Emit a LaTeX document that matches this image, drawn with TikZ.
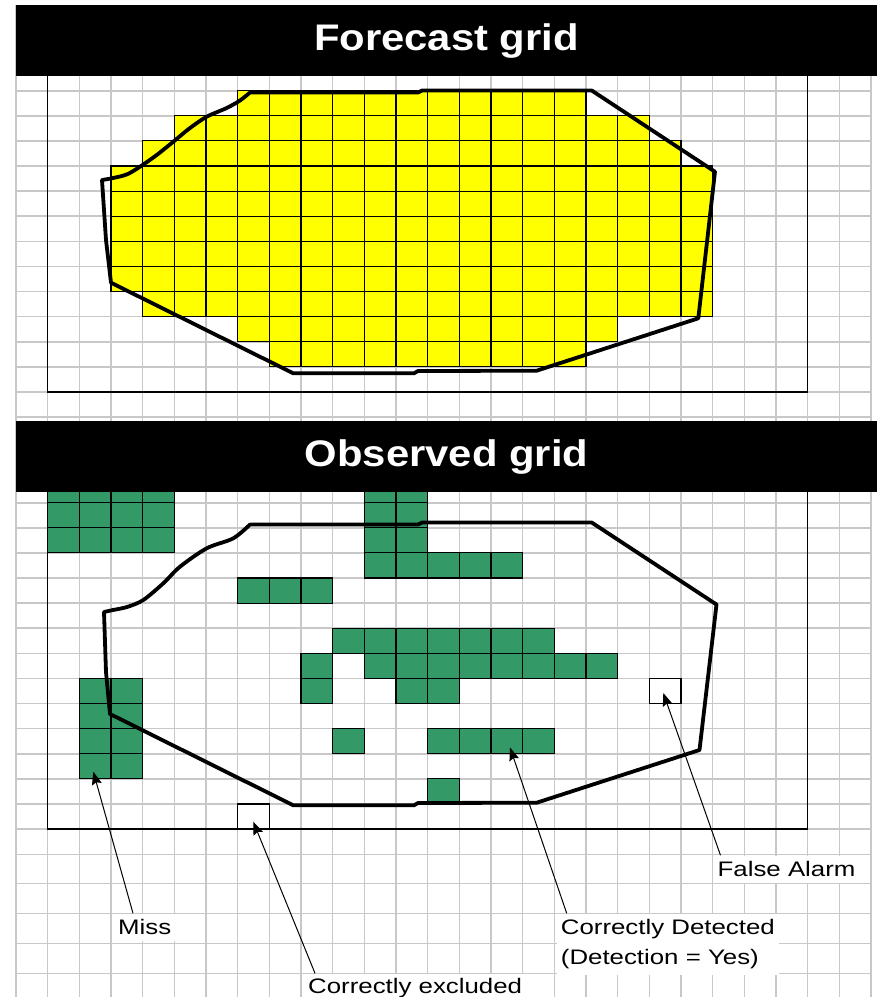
\documentclass[tikz,border=0pt]{standalone}
\usepackage{fontspec}
\usetikzlibrary{arrows.meta}
\newfontfamily\hdrfont[FakeStretch=1.13]{Liberation Sans Bold}
\newfontfamily\lblfont[FakeStretch=1.23]{Liberation Sans}
\definecolor{gridgray}{RGB}{200,200,200}
\definecolor{obsgreen}{RGB}{51,153,102}
\definecolor{fcyellow}{RGB}{255,255,0}
\newcommand\ycell[2]{\filldraw[ycellstyle] ({16+31.667*#1},{90.7+25.1*#2}) rectangle ++(31.667,25.1);}
\newcommand\gcell[2]{\filldraw[gcellstyle] ({16+31.667*#1},{502.7+25.1*#2}) rectangle ++(31.667,25.1);}
\tikzset{
  gridline/.style={draw=gridgray, line width=1.6pt},
  ycellstyle/.style={fill=fcyellow, draw=black, line width=1.1pt},
  gcellstyle/.style={fill=obsgreen, draw=black, line width=1.1pt},
  boxline/.style={draw=black, line width=1.3pt},
  poly/.style={draw=black, line width=3.8pt, line join=round, line cap=round},
  bar/.style={fill=black},
  hdr/.style={text=white, font=\hdrfont\fontsize{37}{40}\selectfont, inner sep=0pt},
  lbl/.style={fill=white, inner xsep=4pt, inner ysep=6pt, align=left,
              font=\lblfont\fontsize{21}{30}\selectfont},
  arr/.style={draw=black, line width=1pt, -{Stealth[length=13pt,width=10pt,inset=2pt]}}
}
\begin{document}
\begin{tikzpicture}[x=1pt, y=-1pt]
\useasboundingbox (0,0) rectangle (880,997);
\fill[white] (0,0) rectangle (880,997);

% ---------- top grid ----------
\foreach \c in {0,...,27} \draw[gridline] ({16+31.667*\c},5) -- ({16+31.667*\c},421);
\foreach \r in {0,...,13} \draw[gridline] (16,{90.7+25.1*\r}) -- (871,{90.7+25.1*\r});

% yellow forecast cells
\foreach \r/\a/\b in {0/7/17,1/5/19,2/4/20,3/3/21,4/3/21,5/3/21,6/3/21,7/3/21,8/4/21,9/7/18,10/8/17}{
  \foreach \c in {\a,...,\b}{\ycell{\c}{\r}}
}
\draw[boxline] (47.67,5) -- (47.67,391.9) -- (807.67,391.9) -- (807.67,5);

% forecast outline
\draw[poly] (250,92.5) -- (418,92.5) -- (422,90.5) -- (591.7,90.5) -- (715,171.7) -- (698.3,318.3)
  -- (536.7,370.7) -- (418,371) -- (414,373.3) -- (293.3,373.3) -- (111,282.7) -- (106,240) -- (102,180)
  -- plot[smooth] coordinates {(102,180) (111.7,178.3) (126.7,174.5) (140,166.7) (156.7,155) (173.3,141.7) (190,128) (206.7,116.7) (226.7,108) (240,100.5) (250,92.5)};

% ---------- bottom grid ----------
\foreach \c in {0,...,27} \draw[gridline] ({16+31.667*\c},421) -- ({16+31.667*\c},997);
\foreach \r in {0,...,13} \draw[gridline] (16,{502.7+25.1*\r}) -- (871,{502.7+25.1*\r});
\foreach \yy in {854.3,883.3,913.3,943.3,973.3} \draw[gridline] (16,\yy) -- (871,\yy);

% green observed cells
\foreach \r/\a/\b in {-1/1/4,0/1/4,1/1/4,-1/11/12,0/11/12,1/11/12,2/11/15,3/7/9,5/10/16,6/9/9,6/11/18,7/2/3,7/9/9,7/12/13,8/2/3,9/2/3,9/10/10,9/13/16,10/2/3,11/13/13}{
  \foreach \c in {\a,...,\b}{\gcell{\c}{\r}}
}
% single outlined cells
\filldraw[fill=white, boxline] ({16+31.667*7},{502.7+25.1*12}) rectangle ++(31.667,25.1);
\filldraw[fill=white, boxline] ({16+31.667*20},{502.7+25.1*7}) rectangle ++(31.667,25.1);

\draw[boxline] (47.67,421) -- (47.67,829) -- (807.67,829) -- (807.67,421);

% observed outline (same outline, shifted)
\begin{scope}[shift={(0,432)}]
\draw[poly] (250,92.5) -- (418,92.5) -- (422,90.5) -- (591.7,90.5) -- (716.5,172.5) -- (699.5,318)
  -- (536.7,370.7) -- (418,371) -- (414,373.3) -- (293.3,373.3) -- (110,282) -- (106,240) -- (104,180)
  -- plot[smooth] coordinates {(104,180) (113,178) (127,175) (143.3,168) (163.3,151.3) (180,134.7) (206.7,116.3) (233.3,106.3) (250,92.5)};
\end{scope}

% ---------- header bars ----------
\fill[bar] (16,5) rectangle (877,76);
\node[hdr] (fchead) at (446.5,41) {Forecast grid};
\fill[bar] (16,421) rectangle (877,491.7);
\node[hdr] (obhead) at (446.5,457) {Observed grid};

% ---------- labels ----------
\node[lbl, anchor=north west] (miss) at (114,913.3) {Miss};
\node[lbl, anchor=north west] (falsealarm) at (713.5,855.3) {False Alarm};
\node[lbl, anchor=north west] (detected) at (556.7,913.3) {Correctly Detected\\(Detection = Yes)};
\node[lbl, anchor=north west, inner ysep=5pt] (excluded) at (304,973.3) {Correctly excluded};

\coordinate (missTip) at (93.3,771.7);
\coordinate (exclTip) at (253.3,821.7);
\coordinate (detTip) at (510,747.5);
\coordinate (faTip) at (663.3,693);

\draw[arr] ([xshift=19pt]miss.north west) -- (missTip);
\draw[arr] ([xshift=11pt]excluded.north west) -- (exclTip);
\draw[arr] ([xshift=10pt]detected.north west) -- (detTip);
\draw[arr] ([xshift=7pt]falsealarm.north west) -- (faTip);
\end{tikzpicture}
\end{document}
